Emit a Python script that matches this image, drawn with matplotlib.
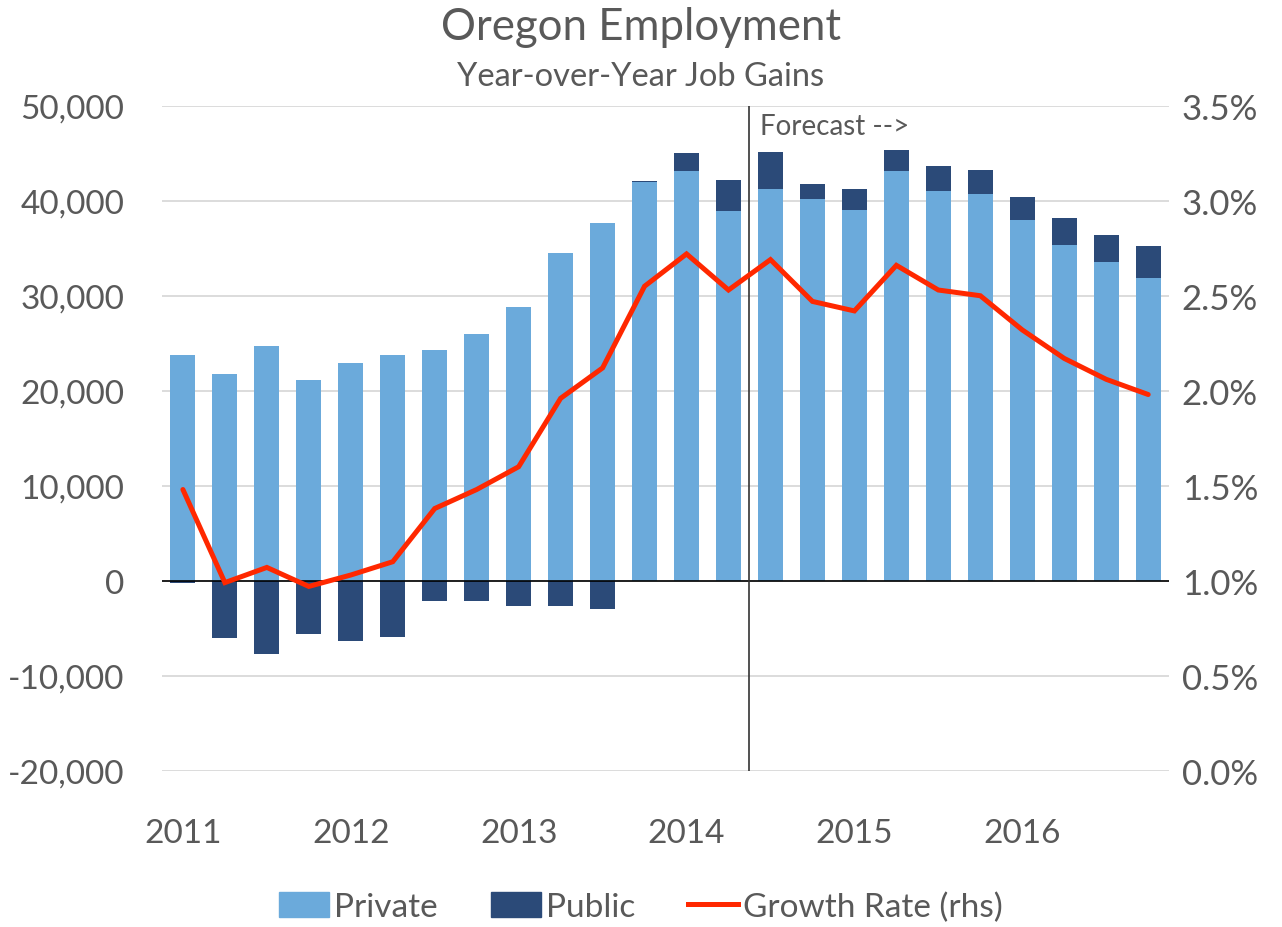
import matplotlib
matplotlib.use("Agg")
import matplotlib.pyplot as plt
from matplotlib.patches import Patch
from matplotlib.lines import Line2D
from matplotlib.ticker import FuncFormatter
import numpy as np

# Quarterly data, 2011Q1 .. 2016Q4
years = ['2011', '2012', '2013', '2014', '2015', '2016']
private = [23800, 21800, 24700, 21100, 22900, 23800, 24300, 26000,
           28800, 34500, 37700, 41950, 43100, 38900, 41200, 40200,
           39000, 43100, 41000, 40700, 38000, 35300, 33600, 31900]
public = [-200, -6000, -7700, -5600, -6300, -5900, -2100, -2100,
          -2700, -2700, -3000, 150, 1900, 3300, 3900, 1600,
          2200, 2200, 2700, 2500, 2400, 2900, 2800, 3300]
growth = [1.48, 0.99, 1.07, 0.97, 1.03, 1.10, 1.38, 1.48,
          1.60, 1.96, 2.12, 2.55, 2.72, 2.53, 2.69, 2.47,
          2.42, 2.66, 2.53, 2.50, 2.32, 2.17, 2.06, 1.98]
forecast_start = 13.5

c_priv = '#6BAADB'
c_pub = '#2B4A78'
c_line = '#FF2800'
c_text = '#595959'

plt.rcParams['font.family'] = ['Lato', 'DejaVu Sans']

x = np.arange(len(private))
priv = np.array(private)
pub = np.array(public)
pub_bottom = np.where(pub > 0, priv, 0)

fig = plt.figure(figsize=(12.82, 9.28), dpi=100)
ax = fig.add_axes([0.1263, 0.1684, 0.912 - 0.1263, 0.885 - 0.1684])

ax.bar(x, priv, width=0.6, color=c_priv, zorder=2)
ax.bar(x, pub, width=0.6, bottom=pub_bottom, color=c_pub, zorder=2)
ax.axhline(0, color='black', lw=1.2, zorder=3)
ax.axvline(forecast_start, color='#333333', lw=1.2, zorder=3)
ax.text(forecast_start + 0.25, 47900, 'Forecast -->', color=c_text,
        fontsize=20, va='center', ha='left')

ax.set_xlim(-0.5, len(private) - 0.5)
ax.set_ylim(-20000, 50000)
ax.set_yticks(range(-20000, 50001, 10000))
ax.yaxis.set_major_formatter(FuncFormatter(lambda v, p: f'{int(v):,}'))
ax.grid(axis='y', color='#D9D9D9', lw=1.3, zorder=0)
ax.set_axisbelow(True)
ax.set_xticks(np.arange(0, len(private), 4))
ax.set_xticklabels(years)
ax.tick_params(axis='y', length=0, pad=27, labelsize=24, labelcolor=c_text)
ax.tick_params(axis='x', length=0, pad=34, labelsize=24, labelcolor=c_text)
for s in ax.spines.values():
    s.set_visible(False)

ax2 = ax.twinx()
ax2.plot(x, growth, color=c_line, lw=3.6, solid_capstyle='round',
         solid_joinstyle='miter', zorder=4)
ax2.set_ylim(0, 3.5)
ax2.set_yticks(np.arange(0, 3.51, 0.5))
ax2.yaxis.set_major_formatter(FuncFormatter(lambda v, p: f'{v:.1f}%'))
ax2.tick_params(axis='y', length=0, pad=9, labelsize=25, labelcolor=c_text)
for s in ax2.spines.values():
    s.set_visible(False)

fig.text(0.5, 1 - 27 / 928, 'Oregon Employment', ha='center', va='center',
         fontsize=31.5, color=c_text)
fig.text(0.5, 1 - 77 / 928, 'Year-over-Year Job Gains', ha='center',
         va='center', fontsize=23.5, color=c_text)

handles = [Patch(color=c_priv), Patch(color=c_pub),
           Line2D([], [], color=c_line, lw=3.6)]
fig.legend(handles, ['Private', 'Public', 'Growth Rate (rhs)'],
           loc='center', bbox_to_anchor=(0.5, 1 - 908 / 928), ncol=3,
           frameon=False, fontsize=24, labelcolor=c_text,
           handlelength=1.5, handleheight=0.8, handletextpad=0.15,
           columnspacing=1.6)

fig.savefig('out.png', dpi=100)
